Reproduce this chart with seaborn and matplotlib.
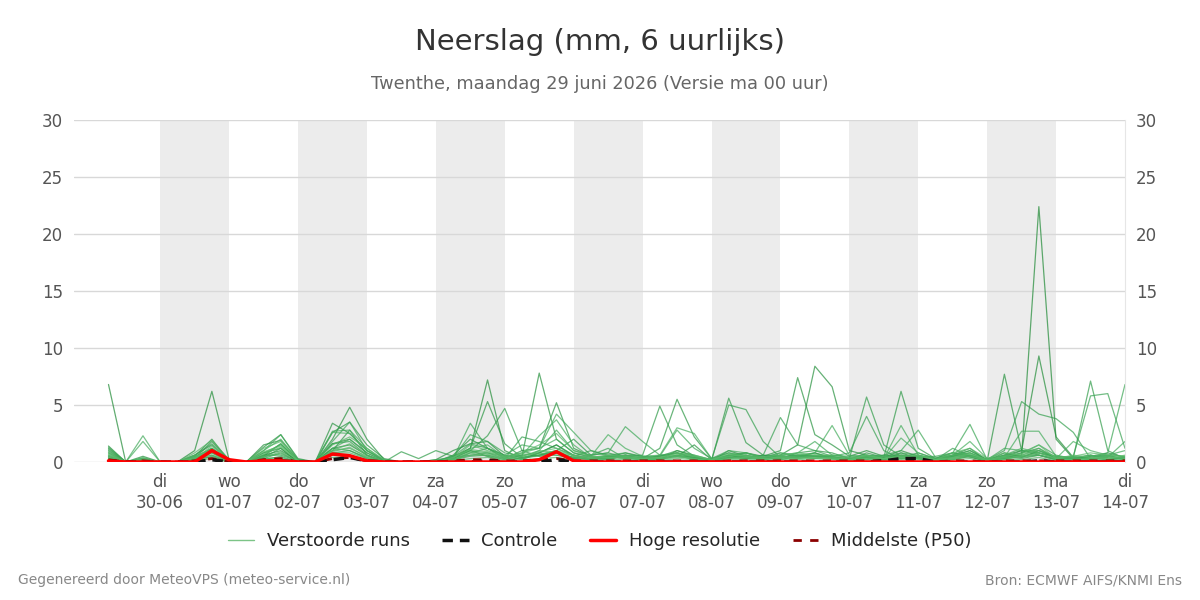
import pandas as pd
import numpy as np
import seaborn as sns
import matplotlib.pyplot as plt
from matplotlib.lines import Line2D

# Time axis: 6-hourly, 29-06 06:00 .. 14-07 00:00
times = pd.date_range("2026-06-29 06:00", "2026-07-14 00:00", freq="6h")

day_names = ["di", "wo", "do", "vr", "za", "zo", "ma",
             "di", "wo", "do", "vr", "za", "zo", "ma", "di"]
day_dates = ["30-06", "01-07", "02-07", "03-07", "04-07", "05-07", "06-07",
             "07-07", "08-07", "09-07", "10-07", "11-07", "12-07", "13-07", "14-07"]

# Ensemble members (mm per 6h)
run01 = [6.8, 0, 0.3, 0, 0, 0.4, 1.2, 0.1, 0, 0.6,
         1.0, 0.1, 0, 1.2, 1.5, 0.6, 0, 0, 0, 0,
         0.3, 1.0, 0.5, 0, 0.4, 0.6, 1.0, 0.3, 0.2, 0.5,
         0.4, 0.2, 0.5, 0.8, 0.3, 0, 0.4, 0.6, 0.2, 0.4,
         0.6, 0.5, 0.4, 0.2, 0.5, 0.3, 0.6, 0.4, 0, 0.5,
         1.0, 0.2, 0.4, 0.6, 22.4, 2.0, 0.3, 0, 0.2, 0.3]
run02 = [1.4, 0, 0.2, 0, 0, 1.0, 6.2, 0.2, 0, 0.8,
         1.2, 0, 0, 1.6, 2.0, 0.8, 0.1, 0, 0, 0,
         0.5, 1.2, 7.2, 1.0, 0.3, 0.8, 1.5, 0.6, 0.3, 0.2,
         0.6, 0.3, 0.2, 1.0, 0.5, 0, 0.6, 0.3, 0.4, 0.2,
         0.5, 0.8, 0.3, 0.1, 0.4, 0.2, 0.8, 0.3, 0.1, 0.2,
         0.5, 0, 0.6, 1.0, 9.3, 2.2, 0.4, 0.2, 0.5, 0.3]
run03 = [1.2, 0, 0.5, 0, 0, 0.5, 2.0, 0.1, 0, 1.5,
         1.9, 0.2, 0, 2.0, 4.8, 2.0, 0.2, 0, 0, 0.2,
         1.0, 1.6, 1.8, 0.5, 0.5, 7.8, 2.0, 0.8, 0.4, 0.3,
         0.5, 0.2, 0.4, 0.8, 0.4, 0.1, 1.0, 0.5, 0.3, 0.6,
         1.5, 8.4, 6.6, 1.0, 0.6, 0.4, 1.0, 0.5, 0.2, 0.6,
         1.2, 0.1, 0.8, 0.4, 1.0, 0.4, 0.2, 0.5, 0.8, 0.4]
run04 = [1.0, 0, 0.2, 0, 0, 0.3, 1.8, 0.2, 0, 1.3,
         2.4, 0.3, 0, 3.4, 2.5, 1.0, 0.1, 0, 0, 0,
         0.6, 2.0, 1.2, 0.3, 1.0, 1.2, 5.2, 1.2, 0.5, 0.4,
         0.8, 0.5, 0.3, 0.5, 1.5, 0.2, 0.5, 0.8, 0.5, 1.0,
         7.4, 2.4, 1.5, 0.5, 1.0, 0.5, 0.4, 0.8, 0.3, 0.8,
         0.4, 0.1, 7.7, 1.0, 0.6, 0.2, 0.3, 0.4, 0.6, 0.2]
run05 = [0.8, 0, 0.3, 0, 0, 0.6, 1.5, 0.1, 0, 0.5,
         1.6, 0.1, 0, 2.6, 3.5, 1.5, 0.3, 0, 0, 0.1,
         0.3, 1.2, 5.3, 1.6, 0.4, 0.6, 1.0, 2.0, 0.6, 0.8,
         0.4, 0.3, 1.2, 5.5, 2.2, 0.3, 0.8, 0.4, 0.6, 0.3,
         0.8, 1.0, 0.8, 0.3, 0.2, 0.6, 0.5, 0.3, 0.2, 0.4,
         0.6, 0.2, 0.3, 0.8, 1.2, 0.3, 0.5, 0.3, 0.2, 0.5]
run06 = [0.6, 0, 0.1, 0, 0, 0.2, 1.0, 0, 0, 0.4,
         1.2, 0, 0, 1.0, 2.8, 0.6, 0, 0, 0, 0,
         0.2, 0.8, 1.2, 0.6, 0.2, 0.8, 1.5, 0.5, 1.0, 0.6,
         0.5, 0.6, 4.9, 1.5, 0.5, 0.1, 5.6, 1.7, 0.6, 0.5,
         0.4, 0.6, 0.5, 0.2, 0.8, 0.4, 6.2, 1.2, 0.3, 0.5,
         0.8, 0.2, 0.6, 0.5, 0.8, 0.4, 0.3, 0.6, 0.2, 0.4]
run07 = [0.5, 0, 0.2, 0, 0, 0.4, 0.8, 0.1, 0, 0.3,
         0.8, 0, 0, 1.6, 1.8, 0.6, 0, 0.9, 0.3, 1.0,
         0.5, 1.0, 2.3, 4.7, 1.0, 0.5, 0.8, 0.4, 0.3, 0.5,
         0.3, 0.4, 0.5, 1.0, 0.6, 0.2, 0.6, 0.8, 0.3, 0.6,
         0.4, 0.8, 0.4, 0.3, 5.7, 1.5, 0.5, 0.3, 0.1, 0.3,
         0.5, 0.1, 0.4, 1.0, 0.8, 0.5, 0.4, 7.1, 1.0, 0.3]
run08 = [0.4, 0, 0.1, 0, 0, 0.2, 0.6, 0, 0, 0.6,
         0.6, 0.1, 0, 1.2, 1.0, 0.3, 0, 0, 0, 0.2,
         0.4, 0.6, 0.8, 0.3, 2.2, 1.8, 1.2, 0.6, 0.2, 0.4,
         0.6, 0.2, 0.3, 0.6, 0.4, 0.2, 5.0, 4.6, 1.8, 0.4,
         0.6, 0.5, 0.3, 0.2, 0.4, 0.3, 0.6, 0.5, 0.2, 0.5,
         0.6, 0.2, 1.0, 5.3, 4.2, 3.8, 2.6, 0.3, 0.5, 0.2]
run09 = [0.3, 0, 0.2, 0, 0, 0.1, 0.5, 0, 0, 0.2,
         0.5, 0, 0, 0.8, 1.0, 0.4, 0, 0, 0, 0.1,
         0.2, 0.5, 0.6, 0.2, 0.6, 0.8, 0.6, 0.3, 0.6, 1.2,
         0.3, 0.2, 0.6, 0.5, 0.3, 0.2, 0.4, 0.3, 0.6, 3.9,
         1.5, 1.0, 0.5, 0.8, 4.0, 1.0, 0.3, 0.6, 0.2, 1.2,
         0.5, 0.1, 0.3, 0.5, 0.6, 0.3, 0.5, 5.8, 6.0, 1.2]
run10 = [0.2, 0, 0.1, 0, 0, 0.3, 0.4, 0, 0, 0.3,
         0.4, 0, 0, 0.6, 0.6, 0.2, 0, 0, 0, 0,
         0.3, 3.4, 1.2, 0.4, 0.3, 0.6, 0.8, 0.4, 0.3, 0.6,
         0.8, 0.4, 0.3, 0.5, 0.4, 0.1, 0.3, 0.5, 0.4, 0.8,
         0.5, 0.3, 0.6, 0.4, 0.5, 0.2, 0.3, 0.4, 0.5, 0.8,
         3.3, 0.2, 0.5, 0.3, 0.6, 0.2, 0.4, 0.3, 0.8, 6.8]
run11 = [1.3, 0, 0.3, 0, 0, 0.2, 1.2, 0.1, 0, 0.8,
         1.5, 0.2, 0, 1.8, 3.5, 1.0, 0.2, 0, 0, 0,
         0.4, 2.4, 1.8, 0.8, 0.5, 1.0, 2.8, 1.0, 0.6, 0.8,
         3.1, 1.8, 0.6, 0.8, 0.5, 0.2, 0.6, 0.4, 0.3, 0.5,
         0.3, 0.5, 0.4, 0.3, 0.5, 0.6, 1.0, 2.8, 0.4, 0.6,
         1.0, 0.2, 0.5, 0.8, 1.5, 0.6, 0.3, 0.6, 0.4, 1.8]
run12 = [1.1, 0, 2.3, 0, 0, 0.6, 1.6, 0.2, 0, 1.0,
         2.4, 0.2, 0, 2.7, 2.8, 1.2, 0.1, 0, 0, 0.1,
         0.5, 1.6, 1.2, 0.6, 1.5, 1.2, 4.2, 2.6, 1.0, 0.5,
         0.6, 0.5, 0.5, 2.8, 1.2, 0.3, 1.0, 0.8, 0.4, 0.6,
         0.8, 1.8, 0.6, 0.5, 0.6, 0.4, 0.8, 0.6, 0.3, 0.8,
         0.6, 0.2, 1.2, 1.0, 1.0, 0.4, 0.2, 0.5, 0.6, 1.0]
run13 = [0.9, 0, 1.8, 0, 0, 0.4, 1.2, 0.1, 0, 0.6,
         1.6, 0.1, 0, 1.2, 2.0, 0.8, 0, 0, 0, 0,
         0.4, 1.0, 0.8, 0.5, 0.6, 2.3, 3.7, 1.5, 0.4, 0.3,
         0.5, 0.3, 0.2, 0.6, 0.4, 0.2, 0.8, 0.6, 0.3, 0.4,
         0.6, 0.8, 3.2, 0.6, 0.4, 0.3, 3.2, 0.6, 0.2, 0.5,
         0.8, 0.2, 0.4, 2.7, 2.7, 0.5, 0.4, 0.2, 0.5, 0.3]
run14 = [0.7, 0, 0.4, 0, 0, 0.5, 1.0, 0.1, 0, 1.0,
         2.0, 0.2, 0, 2.6, 2.5, 1.0, 0.1, 0, 0, 0,
         0.3, 1.2, 1.5, 0.4, 0.8, 1.2, 2.0, 0.8, 0.5, 2.4,
         1.2, 0.5, 0.6, 3.0, 2.5, 0.3, 0.5, 0.8, 0.4, 0.8,
         0.6, 0.5, 0.4, 0.2, 0.6, 0.3, 2.1, 0.8, 0.3, 0.6,
         1.8, 0.3, 0.6, 1.2, 0.8, 0.3, 1.8, 1.0, 0.6, 0.5]
run15 = [0.5, 0, 0.1, 0, 0, 0.2, 0.8, 0, 0, 0.4,
         0.9, 0, 0, 1.0, 1.2, 0.5, 0, 0, 0, 0,
         0.2, 0.6, 0.6, 0.3, 0.4, 0.5, 0.6, 0.4, 0.3, 0.5,
         0.4, 0.3, 0.2, 0.4, 0.3, 0.1, 0.4, 0.3, 0.2, 0.4,
         0.5, 0.4, 0.3, 0.2, 0.3, 0.2, 0.4, 0.3, 0.1, 0.4,
         0.6, 0.1, 0.3, 0.4, 0.6, 0.2, 0.3, 0.2, 0.4, 0.2]
run16 = [0.3, 0, 0.2, 0, 0, 0.6, 0.6, 0.1, 0, 0.5,
         0.7, 0.1, 0, 0.8, 0.8, 0.3, 0, 0, 0, 0,
         0.1, 0.8, 0.5, 0.2, 0.3, 1.0, 0.8, 0.6, 0.2, 0.3,
         0.6, 0.4, 0.3, 0.6, 0.2, 0.1, 0.6, 0.5, 0.3, 0.3,
         0.3, 0.6, 0.5, 0.3, 0.4, 0.5, 0.3, 0.4, 0.2, 0.6,
         0.8, 0.1, 0.2, 0.6, 1.0, 0.5, 0.4, 0.6, 0.3, 0.4]
run17 = [0.2, 0, 0, 0, 0, 0.1, 0.3, 0, 0, 0.2,
         0.3, 0, 0, 0.4, 0.5, 0.2, 0, 0, 0, 0,
         0.1, 0.3, 0.4, 0.1, 0.2, 0.3, 0.4, 0.2, 0.1, 0.2,
         0.2, 0.1, 0.1, 0.3, 0.2, 0, 0.2, 0.2, 0.1, 0.2,
         0.2, 0.3, 0.2, 0.1, 0.2, 0.1, 0.2, 0.2, 0.1, 0.2,
         0.3, 0, 0.2, 0.2, 0.4, 0.1, 0.2, 0.1, 0.2, 0.1]
run18 = [0.8, 0, 0.2, 0, 0, 0.8, 1.9, 0.2, 0, 1.2,
         1.8, 0.1, 0, 1.5, 2.2, 1.2, 0.2, 0, 0, 0,
         0.3, 1.5, 1.0, 0.5, 0.8, 1.5, 2.5, 1.0, 0.5, 0.4,
         0.3, 0.3, 0.4, 0.8, 0.6, 0.2, 0.5, 0.6, 0.4, 0.6,
         0.8, 0.6, 0.6, 0.4, 0.5, 0.3, 0.6, 0.5, 0.2, 0.8,
         1.2, 0.3, 0.8, 0.6, 1.2, 0.4, 0.5, 0.8, 0.6, 0.5]
run19 = [0.4, 0, 0.1, 0, 0, 0.3, 1.4, 0.1, 0, 0.7,
         1.3, 0.1, 0, 1.0, 1.6, 0.6, 0, 0, 0, 0,
         0.2, 0.9, 0.7, 0.3, 0.5, 0.9, 1.2, 0.5, 0.3, 0.4,
         0.4, 0.2, 0.3, 0.5, 0.3, 0.1, 0.3, 0.4, 0.2, 0.5,
         0.4, 0.3, 0.4, 0.2, 0.3, 0.3, 0.5, 0.3, 0.2, 0.3,
         0.5, 0.1, 0.4, 0.5, 0.8, 0.3, 0.2, 0.3, 0.5, 0.3]
run20 = [0.6, 0, 0.3, 0, 0, 0.4, 1.1, 0.1, 0, 0.9,
         1.4, 0.1, 0, 0.9, 1.3, 0.4, 0, 0, 0, 0,
         0.4, 1.1, 0.9, 0.4, 0.7, 0.7, 1.0, 0.6, 0.4, 0.6,
         0.5, 0.3, 0.4, 0.7, 0.5, 0.2, 0.7, 0.5, 0.3, 0.4,
         0.3, 0.4, 0.3, 0.2, 0.6, 0.3, 0.4, 0.6, 0.2, 0.4,
         0.7, 0.2, 0.5, 0.7, 1.5, 0.3, 0.6, 0.4, 0.3, 0.6]

controle = [0.1, 0, 0, 0, 0, 0, 0.2, 0, 0, 0,
            0.1, 0, 0, 0.2, 0.4, 0.1, 0, 0, 0, 0,
            0, 0, 0.1, 0, 0, 0, 0.2, 0, 0, 0,
            0, 0, 0, 0, 0, 0, 0, 0, 0, 0,
            0, 0, 0, 0, 0, 0.1, 0.3, 0.3, 0, 0,
            0, 0, 0, 0, 0.1, 0, 0, 0, 0, 0]
hoge_res = [0.1, 0, 0, 0, 0, 0, 1.0, 0.2, 0, 0.1,
            0.1, 0, 0, 0.7, 0.55, 0.1, 0, 0, 0, 0,
            0, 0, 0, 0, 0, 0.2, 0.9, 0.1, 0, 0,
            0, 0, 0, 0, 0, 0, 0, 0, 0, 0,
            0, 0, 0, 0, 0, 0, 0, 0, 0, 0,
            0, 0, 0, 0, 0, 0, 0, 0, 0, 0]
p50 = [0.2, 0, 0.1, 0, 0, 0.1, 0.3, 0, 0, 0.2,
       0.3, 0, 0, 0.3, 0.4, 0.1, 0, 0, 0, 0,
       0.1, 0.2, 0.2, 0.1, 0.1, 0.2, 0.3, 0.1, 0.1, 0.1,
       0.1, 0.1, 0.1, 0.1, 0.1, 0, 0.1, 0.1, 0.1, 0.1,
       0.1, 0.1, 0.1, 0.1, 0.1, 0.1, 0.1, 0.1, 0, 0.1,
       0.1, 0, 0.1, 0.1, 0.1, 0.1, 0.1, 0.1, 0.1, 0.1]

runs = [run01, run02, run03, run04, run05, run06, run07, run08, run09, run10,
        run11, run12, run13, run14, run15, run16, run17, run18, run19, run20]

df = pd.DataFrame({
    "tijd": np.tile(times, len(runs)),
    "neerslag": np.concatenate(runs),
    "run": np.repeat(np.arange(len(runs)), len(times)),
})

sns.set_style("white")
plt.rcParams["font.family"] = ["DejaVu Sans"]

fig = plt.figure(figsize=(12, 6), dpi=100)
ax = fig.add_axes([0.0617, 0.23, 0.8758, 0.57])

# shaded alternate days
for d in range(0, 14, 2):
    start = pd.Timestamp("2026-06-30") + pd.Timedelta(days=d)
    ax.axvspan(start, start + pd.Timedelta(days=1), color="#ececec", lw=0, zorder=0)

greens = sns.blend_palette(["#1f8a35", "#3aa655", "#5dbb6c"], n_colors=len(runs))
sns.lineplot(data=df, x="tijd", y="neerslag", hue="run", palette=greens,
             legend=False, lw=0.9, alpha=0.7, ax=ax, zorder=2)

sns.lineplot(x=times, y=p50, color="#8b0000", lw=2, ls=(0, (3, 3)), ax=ax, zorder=3)
sns.lineplot(x=times, y=controle, color="#111111", lw=2.5, ls=(0, (3, 2)), ax=ax, zorder=4)
sns.lineplot(x=times, y=hoge_res, color="#ff0000", lw=2.5, ax=ax, zorder=5)

ax.set_xlim(pd.Timestamp("2026-06-28 18:00"), pd.Timestamp("2026-07-14 00:00"))
ax.set_ylim(0, 30)
ax.set_yticks(range(0, 31, 5))
ax.grid(axis="y", color="#d8d8d8", lw=1)
ax.grid(axis="x", visible=False)
ax.set_axisbelow(True)

tick_pos = pd.date_range("2026-06-30", "2026-07-14", freq="D")
ax.set_xticks(tick_pos)
ax.set_xticklabels([f"{a}\n{b}" for a, b in zip(day_names, day_dates)])
ax.tick_params(axis="x", colors="#555555", labelsize=12, length=6, width=1.2,
               direction="out", pad=2)
ax.tick_params(axis="y", colors="#555555", labelsize=12, length=0,
               labelright=True, right=False, pad=8)
ax.set_xlabel("")
ax.set_ylabel("")
for s in ["top", "left", "bottom"]:
    ax.spines[s].set_visible(False)
ax.spines["right"].set_color("#e6e6e6")

fig.text(0.5, 0.93, "Neerslag (mm, 6 uurlijks)", ha="center", va="center",
         fontsize=21, color="#333333")
fig.text(0.5, 0.86, "Twenthe, maandag 29 juni 2026 (Versie ma 00 uur)",
         ha="center", va="center", fontsize=12.8, color="#666666")
fig.text(0.015, 0.033, "Gegenereerd door MeteoVPS (meteo-service.nl)",
         ha="left", va="center", fontsize=10, color="#888888")
fig.text(0.985, 0.033, "Bron: ECMWF AIFS/KNMI Ens",
         ha="right", va="center", fontsize=10, color="#888888")

handles = [
    Line2D([0], [0], color="#7cc487", lw=1),
    Line2D([0], [0], color="#111111", lw=2.5, ls=(0, (3, 2))),
    Line2D([0], [0], color="#ff0000", lw=2.5),
    Line2D([0], [0], color="#8b0000", lw=2, ls=(0, (3, 3))),
]
labels = ["Verstoorde runs", "Controle", "Hoge resolutie", "Middelste (P50)"]
fig.legend(handles, labels, loc="center", bbox_to_anchor=(0.5, 0.098), ncol=4,
           frameon=False, fontsize=13, handlelength=1.45, handletextpad=0.7,
           columnspacing=1.8)

fig.savefig("out.png", dpi=100)
